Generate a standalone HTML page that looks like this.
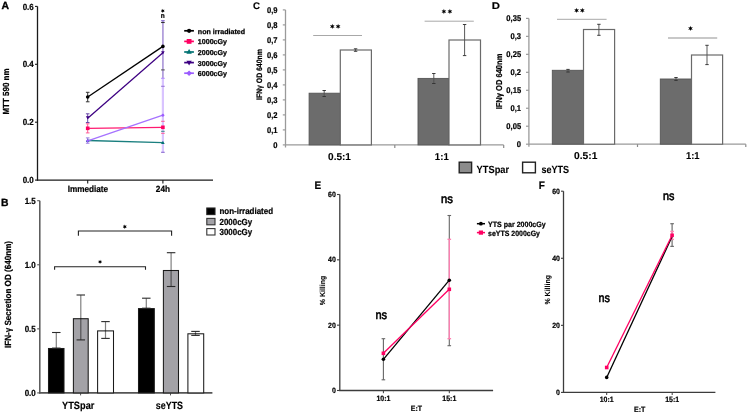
<!DOCTYPE html>
<html><head><meta charset="utf-8"><style>
html,body{margin:0;padding:0;background:#fff;}
svg{display:block;font-family:"Liberation Sans", sans-serif;will-change:transform;text-rendering:geometricPrecision;}
</style></head><body>
<svg width="749" height="415" viewBox="0 0 749 415">
<rect width="749" height="415" fill="#fff"/>
<text transform="translate(1.5 8.7)" font-size="10.4" font-weight="bold" fill="#000" text-anchor="start" stroke="#000" stroke-width="0.35">A</text>
<line x1="37.5" y1="6.4" x2="37.5" y2="180.7" stroke="#1a1a1a" stroke-width="1.3"/>
<line x1="36.9" y1="180.1" x2="213" y2="180.1" stroke="#1a1a1a" stroke-width="1.3"/>
<line x1="35.0" y1="6.4" x2="37.5" y2="6.4" stroke="#1a1a1a" stroke-width="1.1"/>
<text transform="translate(33.8 9.8) scale(1.0 1.1)" font-size="8" font-weight="bold" fill="#000" text-anchor="end" stroke="#000" stroke-width="0.2">0.6</text>
<line x1="35.0" y1="64.3" x2="37.5" y2="64.3" stroke="#1a1a1a" stroke-width="1.1"/>
<text transform="translate(33.8 67.25) scale(1.0 1.1)" font-size="8" font-weight="bold" fill="#000" text-anchor="end" stroke="#000" stroke-width="0.2">0.4</text>
<line x1="35.0" y1="122.2" x2="37.5" y2="122.2" stroke="#1a1a1a" stroke-width="1.1"/>
<text transform="translate(33.8 124.9) scale(1.0 1.1)" font-size="8" font-weight="bold" fill="#000" text-anchor="end" stroke="#000" stroke-width="0.2">0.2</text>
<line x1="35.0" y1="180.1" x2="37.5" y2="180.1" stroke="#1a1a1a" stroke-width="1.1"/>
<text transform="translate(33.8 182.95) scale(1.0 1.1)" font-size="8" font-weight="bold" fill="#000" text-anchor="end" stroke="#000" stroke-width="0.2">0.0</text>
<line x1="87.7" y1="180.1" x2="87.7" y2="183.6" stroke="#1a1a1a" stroke-width="1.1"/>
<line x1="162.9" y1="180.1" x2="162.9" y2="183.6" stroke="#1a1a1a" stroke-width="1.1"/>
<text transform="translate(87.9 191.5) scale(1.0 1.1)" font-size="8.2" font-weight="bold" fill="#000" text-anchor="middle" stroke="#000" stroke-width="0.2">Immediate</text>
<text transform="translate(162.9 191.5) scale(1.0 1.1)" font-size="8.2" font-weight="bold" fill="#000" text-anchor="middle" stroke="#000" stroke-width="0.2">24h</text>
<text transform="translate(8.8 91.5) rotate(-90) scale(1.0 1.1)" font-size="8" font-weight="bold" fill="#000" text-anchor="middle" stroke="#000" stroke-width="0.2">MTT 590 nm</text>
<line x1="162.9" y1="20.7" x2="162.9" y2="78.3" stroke="#b3a0dc" stroke-width="1.8"/>
<line x1="162.9" y1="78.3" x2="162.9" y2="152.3" stroke="#d9c4ff" stroke-width="2.2"/>
<line x1="161.1" y1="20.7" x2="164.7" y2="20.7" stroke="#8466cc" stroke-width="1.1"/>
<line x1="161.1" y1="22.5" x2="164.7" y2="22.5" stroke="#333" stroke-width="1.1"/>
<line x1="161.1" y1="69.9" x2="164.7" y2="69.9" stroke="#555" stroke-width="1.1"/>
<line x1="161.1" y1="78.3" x2="164.7" y2="78.3" stroke="#b48cff" stroke-width="1.1"/>
<line x1="161.1" y1="86.3" x2="164.7" y2="86.3" stroke="#9a78d8" stroke-width="1.1"/>
<line x1="161.1" y1="152.3" x2="164.7" y2="152.3" stroke="#8a6ad0" stroke-width="1.1"/>
<line x1="161.1" y1="121.3" x2="164.7" y2="121.3" stroke="#ff5a96" stroke-width="1.0"/>
<line x1="161.1" y1="133.3" x2="164.7" y2="133.3" stroke="#ff5a96" stroke-width="1.0"/>
<line x1="161.1" y1="131.3" x2="164.7" y2="131.3" stroke="#3a8a8a" stroke-width="1.0"/>
<line x1="87.7" y1="92.3" x2="87.7" y2="101.8" stroke="#333" stroke-width="1.0"/>
<line x1="85.9" y1="92.3" x2="89.5" y2="92.3" stroke="#333" stroke-width="1.0"/>
<line x1="85.9" y1="101.8" x2="89.5" y2="101.8" stroke="#333" stroke-width="1.0"/>
<line x1="87.7" y1="113.8" x2="87.7" y2="122.5" stroke="#6a4aa8" stroke-width="1.0"/>
<line x1="85.9" y1="113.8" x2="89.5" y2="113.8" stroke="#6a4aa8" stroke-width="1.0"/>
<line x1="85.9" y1="122.5" x2="89.5" y2="122.5" stroke="#6a4aa8" stroke-width="1.0"/>
<line x1="87.7" y1="123.8" x2="87.7" y2="132.9" stroke="#ff5a96" stroke-width="1.0"/>
<line x1="85.9" y1="123.8" x2="89.5" y2="123.8" stroke="#ff5a96" stroke-width="1.0"/>
<line x1="85.9" y1="132.9" x2="89.5" y2="132.9" stroke="#ff5a96" stroke-width="1.0"/>
<line x1="87.7" y1="137.9" x2="87.7" y2="143.2" stroke="#9a7ae0" stroke-width="1.0"/>
<line x1="85.9" y1="137.9" x2="89.5" y2="137.9" stroke="#9a7ae0" stroke-width="1.0"/>
<line x1="85.9" y1="143.2" x2="89.5" y2="143.2" stroke="#9a7ae0" stroke-width="1.0"/>
<line x1="87.7" y1="140.5" x2="162.9" y2="142.6" stroke="#1a7f7f" stroke-width="1.3"/>
<line x1="87.7" y1="128.3" x2="162.9" y2="127.3" stroke="#ff1a70" stroke-width="1.35"/>
<line x1="87.7" y1="140.8" x2="162.9" y2="115.2" stroke="#a672ff" stroke-width="1.3"/>
<line x1="87.7" y1="118.2" x2="162.9" y2="52.7" stroke="#3d0082" stroke-width="1.25"/>
<line x1="87.7" y1="97.0" x2="162.9" y2="46.4" stroke="#000" stroke-width="1.3"/>
<circle cx="87.7" cy="97.0" r="1.8" fill="#000"/>
<circle cx="162.9" cy="46.4" r="1.8" fill="#000"/>
<rect x="85.9" y="126.5" width="3.6" height="3.6" fill="#ff0062" stroke="none" stroke-width="1"/>
<rect x="161.1" y="125.5" width="3.6" height="3.6" fill="#ff0062" stroke="none" stroke-width="1"/>
<path d="M85.9 141.94 L87.7 138.7 L89.5 141.94 Z" fill="#007272" stroke="none" stroke-width="1"/>
<path d="M161.1 144.04 L162.9 140.79999999999998 L164.70000000000002 144.04 Z" fill="#007272" stroke="none" stroke-width="1"/>
<path d="M85.9 116.36 L87.7 119.6 L89.5 116.36 Z" fill="#3d0082" stroke="none" stroke-width="1"/>
<path d="M161.1 51.260000000000005 L162.9 54.5 L164.70000000000002 51.260000000000005 Z" fill="#3d0082" stroke="none" stroke-width="1"/>
<path d="M85.9 140.8 L87.7 139.0 L89.5 140.8 L87.7 142.60000000000002 Z" fill="#9b5cff" stroke="none" stroke-width="1"/>
<path d="M161.1 115.2 L162.9 113.4 L164.70000000000002 115.2 L162.9 117.0 Z" fill="#9b5cff" stroke="none" stroke-width="1"/>
<polygon points="162.80,8.70 162.28,9.89 160.98,9.75 161.75,10.80 160.98,11.85 162.28,11.71 162.80,12.90 163.33,11.71 164.62,11.85 163.85,10.80 164.62,9.75 163.33,9.89" fill="#000"/>
<text transform="translate(162.7 18.3) scale(1.0 1.1)" font-size="6.5" font-weight="bold" fill="#000" text-anchor="middle" stroke="#000" stroke-width="0.2">n</text>
<line x1="184.2" y1="30.8" x2="193.9" y2="30.8" stroke="#000" stroke-width="1.7"/>
<circle cx="189.1" cy="30.8" r="2.1" fill="#000"/>
<text transform="translate(197.8 33.8)" font-size="7.1" font-weight="bold" fill="#000" text-anchor="start" stroke="#000" stroke-width="0.25">non irradiated</text>
<line x1="184.2" y1="41.4" x2="193.9" y2="41.4" stroke="#ff0062" stroke-width="1.7"/>
<rect x="186.7" y="39.0" width="4.8" height="4.8" fill="#ff0062" stroke="none" stroke-width="1"/>
<text transform="translate(197.8 44.4)" font-size="7.1" font-weight="bold" fill="#000" text-anchor="start" stroke="#000" stroke-width="0.25">1000cGy</text>
<line x1="184.2" y1="52.0" x2="193.9" y2="52.0" stroke="#007272" stroke-width="1.7"/>
<path d="M186.4 53.86 L189.1 49.0 L191.79999999999998 53.86 Z" fill="#007272" stroke="none" stroke-width="1"/>
<text transform="translate(197.8 55.0)" font-size="7.1" font-weight="bold" fill="#000" text-anchor="start" stroke="#000" stroke-width="0.25">2000cGy</text>
<line x1="184.2" y1="62.599999999999994" x2="193.9" y2="62.599999999999994" stroke="#3d0082" stroke-width="1.7"/>
<path d="M186.4 60.739999999999995 L189.1 65.6 L191.79999999999998 60.739999999999995 Z" fill="#3d0082" stroke="none" stroke-width="1"/>
<text transform="translate(197.8 65.6)" font-size="7.1" font-weight="bold" fill="#000" text-anchor="start" stroke="#000" stroke-width="0.25">3000cGy</text>
<line x1="184.2" y1="73.2" x2="193.9" y2="73.2" stroke="#9b5cff" stroke-width="1.7"/>
<path d="M186.29999999999998 73.2 L189.1 70.4 L191.9 73.2 L189.1 76.0 Z" fill="#9b5cff" stroke="none" stroke-width="1"/>
<text transform="translate(197.8 76.2)" font-size="7.1" font-weight="bold" fill="#000" text-anchor="start" stroke="#000" stroke-width="0.25">6000cGy</text>
<text transform="translate(0.9 205.6)" font-size="10.4" font-weight="bold" fill="#000" text-anchor="start" stroke="#000" stroke-width="0.3">B</text>
<line x1="39.8" y1="200.7" x2="39.8" y2="393.6" stroke="#555" stroke-width="1.5"/>
<line x1="39.099999999999994" y1="392.9" x2="212.4" y2="392.9" stroke="#555" stroke-width="1.6"/>
<line x1="37.2" y1="200.7" x2="39.8" y2="200.7" stroke="#555" stroke-width="1.1"/>
<text transform="translate(35.8 203.5) scale(1.0 1.1)" font-size="8" font-weight="bold" fill="#000" text-anchor="end" stroke="#000" stroke-width="0.2">1.5</text>
<line x1="37.2" y1="264.77" x2="39.8" y2="264.77" stroke="#555" stroke-width="1.1"/>
<text transform="translate(35.8 267.57) scale(1.0 1.1)" font-size="8" font-weight="bold" fill="#000" text-anchor="end" stroke="#000" stroke-width="0.2">1.0</text>
<line x1="37.2" y1="328.84" x2="39.8" y2="328.84" stroke="#555" stroke-width="1.1"/>
<text transform="translate(35.8 331.64) scale(1.0 1.1)" font-size="8" font-weight="bold" fill="#000" text-anchor="end" stroke="#000" stroke-width="0.2">0.5</text>
<line x1="37.2" y1="392.90999999999997" x2="39.8" y2="392.90999999999997" stroke="#555" stroke-width="1.1"/>
<text transform="translate(35.8 395.71) scale(1.0 1.1)" font-size="8" font-weight="bold" fill="#000" text-anchor="end" stroke="#000" stroke-width="0.2">0.0</text>
<line x1="80.6" y1="392.9" x2="80.6" y2="395.4" stroke="#555" stroke-width="1.0"/>
<line x1="170.5" y1="392.9" x2="170.5" y2="395.4" stroke="#555" stroke-width="1.0"/>
<text transform="translate(78.2 408.7)" font-size="10.6" font-weight="bold" fill="#000" text-anchor="middle" stroke="#000" stroke-width="0.15" textLength="32.4" lengthAdjust="spacingAndGlyphs">YTSpar</text>
<text transform="translate(169.4 408.8)" font-size="10.6" font-weight="bold" fill="#000" text-anchor="middle" stroke="#000" stroke-width="0.15" textLength="27.2" lengthAdjust="spacingAndGlyphs">seYTS</text>
<text transform="translate(11.3 294.5) rotate(-90) scale(1.0 1.1)" font-size="8.1" font-weight="bold" fill="#000" text-anchor="middle" stroke="#000" stroke-width="0.2">IFN-&#947; Secretion OD (640nm)</text>
<rect x="48.5" y="348.5" width="15.5" height="44.39999999999998" fill="#000" stroke="#1a1a1a" stroke-width="1.05"/>
<rect x="73.4" y="318.7" width="14.799999999999997" height="74.19999999999999" fill="#a3a2a7" stroke="#1a1a1a" stroke-width="1.05"/>
<rect x="97.6" y="330.9" width="15.900000000000006" height="62.0" fill="#fff" stroke="#1a1a1a" stroke-width="1.05"/>
<rect x="138.5" y="308.6" width="15.800000000000011" height="84.29999999999995" fill="#000" stroke="#1a1a1a" stroke-width="1.05"/>
<rect x="163.4" y="270.5" width="15.099999999999994" height="122.39999999999998" fill="#a3a2a7" stroke="#1a1a1a" stroke-width="1.05"/>
<rect x="187.9" y="333.8" width="15.799999999999983" height="59.099999999999966" fill="#fff" stroke="#1a1a1a" stroke-width="1.05"/>
<line x1="56.3" y1="332.5" x2="56.3" y2="348.1" stroke="#000" stroke-width="1.2" stroke-opacity="0.5"/>
<line x1="52.05" y1="332.5" x2="60.55" y2="332.5" stroke="#2a2a2a" stroke-width="1.1"/>
<line x1="52.05" y1="348.1" x2="60.55" y2="348.1" stroke="#2a2a2a" stroke-width="1.1"/>
<line x1="80.8" y1="295.0" x2="80.8" y2="339.9" stroke="#000" stroke-width="1.2" stroke-opacity="0.5"/>
<line x1="76.55" y1="295.0" x2="85.05" y2="295.0" stroke="#2a2a2a" stroke-width="1.1"/>
<line x1="76.55" y1="339.9" x2="85.05" y2="339.9" stroke="#2a2a2a" stroke-width="1.1"/>
<line x1="105.5" y1="321.6" x2="105.5" y2="338.4" stroke="#000" stroke-width="1.2" stroke-opacity="0.5"/>
<line x1="101.25" y1="321.6" x2="109.75" y2="321.6" stroke="#2a2a2a" stroke-width="1.1"/>
<line x1="101.25" y1="338.4" x2="109.75" y2="338.4" stroke="#2a2a2a" stroke-width="1.1"/>
<line x1="146.3" y1="298.2" x2="146.3" y2="308.2" stroke="#000" stroke-width="1.2" stroke-opacity="0.5"/>
<line x1="142.05" y1="298.2" x2="150.55" y2="298.2" stroke="#2a2a2a" stroke-width="1.1"/>
<line x1="142.05" y1="308.2" x2="150.55" y2="308.2" stroke="#2a2a2a" stroke-width="1.1"/>
<line x1="171.1" y1="252.7" x2="171.1" y2="286.5" stroke="#000" stroke-width="1.2" stroke-opacity="0.5"/>
<line x1="166.85" y1="252.7" x2="175.35" y2="252.7" stroke="#2a2a2a" stroke-width="1.1"/>
<line x1="166.85" y1="286.5" x2="175.35" y2="286.5" stroke="#2a2a2a" stroke-width="1.1"/>
<line x1="195.5" y1="331.4" x2="195.5" y2="335.4" stroke="#000" stroke-width="1.2" stroke-opacity="0.5"/>
<line x1="191.25" y1="331.4" x2="199.75" y2="331.4" stroke="#2a2a2a" stroke-width="1.1"/>
<line x1="191.25" y1="335.4" x2="199.75" y2="335.4" stroke="#2a2a2a" stroke-width="1.1"/>
<path d="M78.4 235.8 V231 H171.6 V235.8" fill="none" stroke="#222" stroke-width="1.1"/>
<path d="M54.6 269.8 V266.8 H145.5 V269.8" fill="none" stroke="#222" stroke-width="1.1"/>
<polygon points="124.80,224.50 124.25,225.75 122.89,225.60 123.70,226.70 122.89,227.80 124.25,227.65 124.80,228.90 125.35,227.65 126.71,227.80 125.90,226.70 126.71,225.60 125.35,225.75" fill="#000"/>
<polygon points="100.05,259.80 99.52,260.99 98.23,260.85 99.00,261.90 98.23,262.95 99.52,262.81 100.05,264.00 100.58,262.81 101.87,262.95 101.10,261.90 101.87,260.85 100.58,260.99" fill="#000"/>
<rect x="206.8" y="208.0" width="8.2" height="6.6" fill="#000" stroke="#222" stroke-width="1.1"/>
<rect x="206.8" y="218.4" width="8.2" height="6.4" fill="#a3a2a7" stroke="#333" stroke-width="1.1"/>
<rect x="206.8" y="228.6" width="8.2" height="6.4" fill="#fff" stroke="#333" stroke-width="1.1"/>
<text transform="translate(219.5 213.8) scale(1.0 1.1)" font-size="8" font-weight="bold" fill="#000" text-anchor="start" stroke="#000" stroke-width="0.2" textLength="53.5" lengthAdjust="spacingAndGlyphs">non-irradiated</text>
<text transform="translate(219.5 224.7) scale(1.0 1.1)" font-size="8" font-weight="bold" fill="#000" text-anchor="start" stroke="#000" stroke-width="0.2" textLength="32.7" lengthAdjust="spacingAndGlyphs">2000cGy</text>
<text transform="translate(219.5 235.0) scale(1.0 1.1)" font-size="8" font-weight="bold" fill="#000" text-anchor="start" stroke="#000" stroke-width="0.2" textLength="32.7" lengthAdjust="spacingAndGlyphs">3000cGy</text>
<text transform="translate(253.0 9.0)" font-size="9.7" font-weight="bold" fill="#000" text-anchor="start" stroke="#000" stroke-width="0.15">C</text>
<line x1="285.5" y1="9.9" x2="285.5" y2="147.5" stroke="#9a9a9a" stroke-width="1.3"/>
<line x1="285.5" y1="144.9" x2="503.7" y2="144.9" stroke="#9a9a9a" stroke-width="1.3"/>
<line x1="394.8" y1="144.9" x2="394.8" y2="147.9" stroke="#8a8a8a" stroke-width="1.2"/>
<line x1="503.7" y1="144.9" x2="503.7" y2="147.9" stroke="#8a8a8a" stroke-width="1.2"/>
<line x1="282.8" y1="9.9" x2="285.5" y2="9.9" stroke="#9a9a9a" stroke-width="1.2"/>
<text transform="translate(277.5 12.8) scale(1.0 1.1)" font-size="7.6" font-weight="bold" fill="#000" text-anchor="end" stroke="#000" stroke-width="0.2">0,9</text>
<line x1="282.8" y1="24.9" x2="285.5" y2="24.9" stroke="#9a9a9a" stroke-width="1.2"/>
<text transform="translate(277.5 27.799999999999997) scale(1.0 1.1)" font-size="7.6" font-weight="bold" fill="#000" text-anchor="end" stroke="#000" stroke-width="0.2">0,8</text>
<line x1="282.8" y1="39.9" x2="285.5" y2="39.9" stroke="#9a9a9a" stroke-width="1.2"/>
<text transform="translate(277.5 42.8) scale(1.0 1.1)" font-size="7.6" font-weight="bold" fill="#000" text-anchor="end" stroke="#000" stroke-width="0.2">0,7</text>
<line x1="282.8" y1="54.9" x2="285.5" y2="54.9" stroke="#9a9a9a" stroke-width="1.2"/>
<text transform="translate(277.5 57.8) scale(1.0 1.1)" font-size="7.6" font-weight="bold" fill="#000" text-anchor="end" stroke="#000" stroke-width="0.2">0,6</text>
<line x1="282.8" y1="69.9" x2="285.5" y2="69.9" stroke="#9a9a9a" stroke-width="1.2"/>
<text transform="translate(277.5 72.80000000000001) scale(1.0 1.1)" font-size="7.6" font-weight="bold" fill="#000" text-anchor="end" stroke="#000" stroke-width="0.2">0,5</text>
<line x1="282.8" y1="84.9" x2="285.5" y2="84.9" stroke="#9a9a9a" stroke-width="1.2"/>
<text transform="translate(277.5 87.80000000000001) scale(1.0 1.1)" font-size="7.6" font-weight="bold" fill="#000" text-anchor="end" stroke="#000" stroke-width="0.2">0,4</text>
<line x1="282.8" y1="99.9" x2="285.5" y2="99.9" stroke="#9a9a9a" stroke-width="1.2"/>
<text transform="translate(277.5 102.80000000000001) scale(1.0 1.1)" font-size="7.6" font-weight="bold" fill="#000" text-anchor="end" stroke="#000" stroke-width="0.2">0,3</text>
<line x1="282.8" y1="114.9" x2="285.5" y2="114.9" stroke="#9a9a9a" stroke-width="1.2"/>
<text transform="translate(277.5 117.80000000000001) scale(1.0 1.1)" font-size="7.6" font-weight="bold" fill="#000" text-anchor="end" stroke="#000" stroke-width="0.2">0,2</text>
<line x1="282.8" y1="129.9" x2="285.5" y2="129.9" stroke="#9a9a9a" stroke-width="1.2"/>
<text transform="translate(277.5 132.8) scale(1.0 1.1)" font-size="7.6" font-weight="bold" fill="#000" text-anchor="end" stroke="#000" stroke-width="0.2">0,1</text>
<line x1="282.8" y1="144.9" x2="285.5" y2="144.9" stroke="#9a9a9a" stroke-width="1.2"/>
<text transform="translate(277.5 147.8) scale(1.0 1.1)" font-size="7.6" font-weight="bold" fill="#000" text-anchor="end" stroke="#000" stroke-width="0.2">0</text>
<rect x="309.1" y="93.2" width="31.19999999999999" height="51.7" fill="#6c6c6c" stroke="#555" stroke-width="0.9"/>
<rect x="340.3" y="50.0" width="31.099999999999966" height="94.9" fill="#fff" stroke="#6a6a6a" stroke-width="1.2"/>
<rect x="418.0" y="78.4" width="31.0" height="66.5" fill="#6c6c6c" stroke="#555" stroke-width="0.9"/>
<rect x="449.0" y="40.0" width="31.5" height="104.9" fill="#fff" stroke="#6a6a6a" stroke-width="1.2"/>
<line x1="324.2" y1="90.5" x2="324.2" y2="96.5" stroke="#505050" stroke-width="0.95"/>
<line x1="322.5" y1="90.5" x2="325.9" y2="90.5" stroke="#333" stroke-width="0.95"/>
<line x1="322.5" y1="96.5" x2="325.9" y2="96.5" stroke="#333" stroke-width="0.95"/>
<line x1="355.6" y1="48.8" x2="355.6" y2="51.3" stroke="#505050" stroke-width="0.95"/>
<line x1="353.90000000000003" y1="48.8" x2="357.3" y2="48.8" stroke="#333" stroke-width="0.95"/>
<line x1="353.90000000000003" y1="51.3" x2="357.3" y2="51.3" stroke="#333" stroke-width="0.95"/>
<line x1="433.8" y1="73.5" x2="433.8" y2="83.5" stroke="#505050" stroke-width="0.95"/>
<line x1="432.1" y1="73.5" x2="435.5" y2="73.5" stroke="#333" stroke-width="0.95"/>
<line x1="432.1" y1="83.5" x2="435.5" y2="83.5" stroke="#333" stroke-width="0.95"/>
<line x1="464.6" y1="24.5" x2="464.6" y2="55.6" stroke="#505050" stroke-width="0.95"/>
<line x1="462.90000000000003" y1="24.5" x2="466.3" y2="24.5" stroke="#333" stroke-width="0.95"/>
<line x1="462.90000000000003" y1="55.6" x2="466.3" y2="55.6" stroke="#333" stroke-width="0.95"/>
<line x1="313.2" y1="35.5" x2="362" y2="35.5" stroke="#a8a8a8" stroke-width="1.0"/>
<line x1="424.6" y1="21.2" x2="473.8" y2="21.2" stroke="#a8a8a8" stroke-width="1.0"/>
<polygon points="332.30,23.70 331.73,25.40 329.96,25.05 331.15,26.40 329.96,27.75 331.73,27.40 332.30,29.10 332.88,27.40 334.64,27.75 333.45,26.40 334.64,25.05 332.88,25.40" fill="#000"/>
<polygon points="338.10,23.70 337.53,25.40 335.76,25.05 336.95,26.40 335.76,27.75 337.53,27.40 338.10,29.10 338.68,27.40 340.44,27.75 339.25,26.40 340.44,25.05 338.68,25.40" fill="#000"/>
<polygon points="443.90,8.80 443.32,10.50 441.56,10.15 442.75,11.50 441.56,12.85 443.32,12.50 443.90,14.20 444.47,12.50 446.24,12.85 445.05,11.50 446.24,10.15 444.47,10.50" fill="#000"/>
<polygon points="449.90,8.80 449.32,10.50 447.56,10.15 448.75,11.50 447.56,12.85 449.32,12.50 449.90,14.20 450.47,12.50 452.24,12.85 451.05,11.50 452.24,10.15 450.47,10.50" fill="#000"/>
<text transform="translate(339.5 159.6)" font-size="10" font-weight="bold" fill="#000" text-anchor="middle" stroke="#000" stroke-width="0.1" textLength="22.9" lengthAdjust="spacingAndGlyphs">0.5:1</text>
<text transform="translate(441.8 159.6)" font-size="10" font-weight="bold" fill="#000" text-anchor="middle" stroke="#000" stroke-width="0.1" textLength="13.9" lengthAdjust="spacingAndGlyphs">1:1</text>
<text transform="translate(262.1 74.6) rotate(-90) scale(1.0 1.1)" font-size="7.2" font-weight="bold" fill="#000" text-anchor="middle" stroke="#000" stroke-width="0.2" textLength="50.7" lengthAdjust="spacingAndGlyphs">IFN&#947; OD 640nm</text>
<rect x="459.2" y="162.2" width="12.4" height="10.6" fill="#8c8c8c" stroke="#222" stroke-width="1.4"/>
<rect x="522.6" y="162.2" width="12.8" height="10.6" fill="#fff" stroke="#222" stroke-width="1.4"/>
<text transform="translate(476.6 172.6)" font-size="10.3" font-weight="bold" fill="#000" text-anchor="start" stroke="#000" stroke-width="0.1" textLength="32.5" lengthAdjust="spacingAndGlyphs">YTSpar</text>
<text transform="translate(541.5 172.6)" font-size="10.3" font-weight="bold" fill="#000" text-anchor="start" stroke="#000" stroke-width="0.1" textLength="27.6" lengthAdjust="spacingAndGlyphs">seYTS</text>
<text transform="translate(491.7 8.7) scale(1.17 1.0)" font-size="9.7" font-weight="bold" fill="#000" text-anchor="start" stroke="#000" stroke-width="0.15">D</text>
<line x1="528.9" y1="18.4" x2="528.9" y2="146.7" stroke="#9a9a9a" stroke-width="1.3"/>
<line x1="528.9" y1="144.2" x2="745.8" y2="144.2" stroke="#9a9a9a" stroke-width="1.3"/>
<line x1="637.5" y1="144.2" x2="637.5" y2="147.0" stroke="#8a8a8a" stroke-width="1.2"/>
<line x1="745.8" y1="144.2" x2="745.8" y2="147.0" stroke="#8a8a8a" stroke-width="1.2"/>
<line x1="526.0" y1="18.4" x2="528.9" y2="18.4" stroke="#9a9a9a" stroke-width="1.2"/>
<text transform="translate(521.1 21.299999999999997) scale(1.0 1.1)" font-size="7.6" font-weight="bold" fill="#000" text-anchor="end" stroke="#000" stroke-width="0.2">0,35</text>
<line x1="526.0" y1="36.37" x2="528.9" y2="36.37" stroke="#9a9a9a" stroke-width="1.2"/>
<text transform="translate(521.1 39.269999999999996) scale(1.0 1.1)" font-size="7.6" font-weight="bold" fill="#000" text-anchor="end" stroke="#000" stroke-width="0.2">0,3</text>
<line x1="526.0" y1="54.339999999999996" x2="528.9" y2="54.339999999999996" stroke="#9a9a9a" stroke-width="1.2"/>
<text transform="translate(521.1 57.239999999999995) scale(1.0 1.1)" font-size="7.6" font-weight="bold" fill="#000" text-anchor="end" stroke="#000" stroke-width="0.2">0,25</text>
<line x1="526.0" y1="72.31" x2="528.9" y2="72.31" stroke="#9a9a9a" stroke-width="1.2"/>
<text transform="translate(521.1 75.21000000000001) scale(1.0 1.1)" font-size="7.6" font-weight="bold" fill="#000" text-anchor="end" stroke="#000" stroke-width="0.2">0,2</text>
<line x1="526.0" y1="90.28" x2="528.9" y2="90.28" stroke="#9a9a9a" stroke-width="1.2"/>
<text transform="translate(521.1 93.18) scale(1.0 1.1)" font-size="7.6" font-weight="bold" fill="#000" text-anchor="end" stroke="#000" stroke-width="0.2">0,15</text>
<line x1="526.0" y1="108.25" x2="528.9" y2="108.25" stroke="#9a9a9a" stroke-width="1.2"/>
<text transform="translate(521.1 111.15) scale(1.0 1.1)" font-size="7.6" font-weight="bold" fill="#000" text-anchor="end" stroke="#000" stroke-width="0.2">0,1</text>
<line x1="526.0" y1="126.22" x2="528.9" y2="126.22" stroke="#9a9a9a" stroke-width="1.2"/>
<text transform="translate(521.1 129.12) scale(1.0 1.1)" font-size="7.6" font-weight="bold" fill="#000" text-anchor="end" stroke="#000" stroke-width="0.2">0,05</text>
<line x1="526.0" y1="144.19" x2="528.9" y2="144.19" stroke="#9a9a9a" stroke-width="1.2"/>
<text transform="translate(521.1 147.09) scale(1.0 1.1)" font-size="7.6" font-weight="bold" fill="#000" text-anchor="end" stroke="#000" stroke-width="0.2">0</text>
<rect x="552.3" y="70.3" width="31.200000000000045" height="73.89999999999999" fill="#6c6c6c" stroke="#555" stroke-width="0.9"/>
<rect x="583.5" y="29.5" width="31.100000000000023" height="114.69999999999999" fill="#fff" stroke="#6a6a6a" stroke-width="1.2"/>
<rect x="660.3" y="79.0" width="31.200000000000045" height="65.19999999999999" fill="#6c6c6c" stroke="#555" stroke-width="0.9"/>
<rect x="691.5" y="55.0" width="31.100000000000023" height="89.19999999999999" fill="#fff" stroke="#6a6a6a" stroke-width="1.2"/>
<line x1="568.0" y1="69.4" x2="568.0" y2="72.0" stroke="#505050" stroke-width="0.95"/>
<line x1="566.3" y1="69.4" x2="569.7" y2="69.4" stroke="#333" stroke-width="0.95"/>
<line x1="566.3" y1="72.0" x2="569.7" y2="72.0" stroke="#333" stroke-width="0.95"/>
<line x1="598.9" y1="24.3" x2="598.9" y2="35.3" stroke="#505050" stroke-width="0.95"/>
<line x1="597.1999999999999" y1="24.3" x2="600.6" y2="24.3" stroke="#333" stroke-width="0.95"/>
<line x1="597.1999999999999" y1="35.3" x2="600.6" y2="35.3" stroke="#333" stroke-width="0.95"/>
<line x1="676.0" y1="77.5" x2="676.0" y2="80.4" stroke="#505050" stroke-width="0.95"/>
<line x1="674.3" y1="77.5" x2="677.7" y2="77.5" stroke="#333" stroke-width="0.95"/>
<line x1="674.3" y1="80.4" x2="677.7" y2="80.4" stroke="#333" stroke-width="0.95"/>
<line x1="707.0" y1="45.3" x2="707.0" y2="64.6" stroke="#505050" stroke-width="0.95"/>
<line x1="705.3" y1="45.3" x2="708.7" y2="45.3" stroke="#333" stroke-width="0.95"/>
<line x1="705.3" y1="64.6" x2="708.7" y2="64.6" stroke="#333" stroke-width="0.95"/>
<line x1="557.0" y1="19.3" x2="606.6" y2="19.3" stroke="#a8a8a8" stroke-width="1.0"/>
<line x1="668.0" y1="38.0" x2="717.2" y2="38.0" stroke="#c8c8c8" stroke-width="1.8"/>
<polygon points="576.60,7.70 576.02,9.40 574.26,9.05 575.45,10.40 574.26,11.75 576.02,11.40 576.60,13.10 577.18,11.40 578.94,11.75 577.75,10.40 578.94,9.05 577.18,9.40" fill="#000"/>
<polygon points="582.30,7.70 581.72,9.40 579.96,9.05 581.15,10.40 579.96,11.75 581.72,11.40 582.30,13.10 582.88,11.40 584.64,11.75 583.45,10.40 584.64,9.05 582.88,9.40" fill="#000"/>
<polygon points="690.50,25.70 689.92,27.40 688.16,27.05 689.35,28.40 688.16,29.75 689.92,29.40 690.50,31.10 691.08,29.40 692.84,29.75 691.65,28.40 692.84,27.05 691.08,27.40" fill="#000"/>
<text transform="translate(585.7 159.4)" font-size="10" font-weight="bold" fill="#000" text-anchor="middle" stroke="#000" stroke-width="0.1" textLength="23.4" lengthAdjust="spacingAndGlyphs">0.5:1</text>
<text transform="translate(692.8 159.4)" font-size="10" font-weight="bold" fill="#000" text-anchor="middle" stroke="#000" stroke-width="0.1" textLength="13.6" lengthAdjust="spacingAndGlyphs">1:1</text>
<text transform="translate(501.9 81.5) rotate(-90) scale(1.0 1.1)" font-size="7.8" font-weight="bold" fill="#000" text-anchor="middle" stroke="#000" stroke-width="0.2" textLength="55.7" lengthAdjust="spacingAndGlyphs">IFN&#947; OD 640nm</text>
<text transform="translate(314.4 189.0) scale(1.0 1.1)" font-size="10" font-weight="bold" fill="#000" text-anchor="start" stroke="#000" stroke-width="0.2">E</text>
<line x1="339.8" y1="194.5" x2="339.8" y2="391.1" stroke="#3c3c3c" stroke-width="1.3"/>
<line x1="339.2" y1="390.5" x2="493.1" y2="390.5" stroke="#3c3c3c" stroke-width="1.3"/>
<line x1="337.0" y1="194.5" x2="339.8" y2="194.5" stroke="#3c3c3c" stroke-width="1.1"/>
<text transform="translate(335.9 197.1) scale(1.0 1.1)" font-size="7" font-weight="bold" fill="#000" text-anchor="end" stroke="#000" stroke-width="0.2">60</text>
<line x1="337.0" y1="259.83" x2="339.8" y2="259.83" stroke="#3c3c3c" stroke-width="1.1"/>
<text transform="translate(335.9 262.43) scale(1.0 1.1)" font-size="7" font-weight="bold" fill="#000" text-anchor="end" stroke="#000" stroke-width="0.2">40</text>
<line x1="337.0" y1="325.15999999999997" x2="339.8" y2="325.15999999999997" stroke="#3c3c3c" stroke-width="1.1"/>
<text transform="translate(335.9 327.76) scale(1.0 1.1)" font-size="7" font-weight="bold" fill="#000" text-anchor="end" stroke="#000" stroke-width="0.2">20</text>
<line x1="337.0" y1="390.49" x2="339.8" y2="390.49" stroke="#3c3c3c" stroke-width="1.1"/>
<text transform="translate(335.9 393.09000000000003) scale(1.0 1.1)" font-size="7" font-weight="bold" fill="#000" text-anchor="end" stroke="#000" stroke-width="0.2">0</text>
<line x1="383.4" y1="390.5" x2="383.4" y2="393.2" stroke="#3c3c3c" stroke-width="1.0"/>
<line x1="449.3" y1="390.5" x2="449.3" y2="393.2" stroke="#3c3c3c" stroke-width="1.0"/>
<text transform="translate(383.4 401.4) scale(1.0 1.1)" font-size="7" font-weight="bold" fill="#000" text-anchor="middle" stroke="#000" stroke-width="0.2">10:1</text>
<text transform="translate(449.3 401.4) scale(1.0 1.1)" font-size="7" font-weight="bold" fill="#000" text-anchor="middle" stroke="#000" stroke-width="0.2">15:1</text>
<text transform="translate(416.4 411.2) scale(1.0 1.1)" font-size="7" font-weight="bold" fill="#000" text-anchor="middle" stroke="#000" stroke-width="0.2">E:T</text>
<text transform="translate(324.8 290.5) rotate(-90) scale(1.0 1.05)" font-size="7" font-weight="bold" fill="#000" text-anchor="middle" stroke="#000" stroke-width="0.1">% Killing</text>
<line x1="449.3" y1="215.5" x2="449.3" y2="345.7" stroke="#666" stroke-width="1.1"/>
<line x1="447.5" y1="215.5" x2="451.1" y2="215.5" stroke="#666" stroke-width="1.1"/>
<line x1="447.5" y1="345.7" x2="451.1" y2="345.7" stroke="#666" stroke-width="1.1"/>
<line x1="449.3" y1="239.3" x2="449.3" y2="338.7" stroke="#ff80b2" stroke-width="1.35"/>
<line x1="447.5" y1="239.3" x2="451.1" y2="239.3" stroke="#ff80b2" stroke-width="1.35"/>
<line x1="447.5" y1="338.7" x2="451.1" y2="338.7" stroke="#ff80b2" stroke-width="1.35"/>
<line x1="383.4" y1="338.7" x2="383.4" y2="379.8" stroke="#666" stroke-width="1.1"/>
<line x1="381.59999999999997" y1="338.7" x2="385.2" y2="338.7" stroke="#666" stroke-width="1.1"/>
<line x1="381.59999999999997" y1="379.8" x2="385.2" y2="379.8" stroke="#666" stroke-width="1.1"/>
<line x1="383.4" y1="359.3" x2="449.3" y2="280.2" stroke="#000" stroke-width="1.3"/>
<line x1="383.4" y1="353.3" x2="449.3" y2="289.3" stroke="#ff0062" stroke-width="1.3"/>
<circle cx="383.4" cy="359.3" r="1.8" fill="#000"/>
<circle cx="449.3" cy="280.2" r="1.8" fill="#000"/>
<rect x="381.6" y="351.5" width="3.6" height="3.6" fill="#ff0062" stroke="none" stroke-width="1"/>
<rect x="447.5" y="287.5" width="3.6" height="3.6" fill="#ff0062" stroke="none" stroke-width="1"/>
<text transform="translate(381.3 319.0)" font-size="12.3" font-weight="normal" fill="#000" text-anchor="middle" stroke="#000" stroke-width="0.6" textLength="11.6" lengthAdjust="spacingAndGlyphs">ns</text>
<text transform="translate(447.05 202.9)" font-size="12.3" font-weight="normal" fill="#000" text-anchor="middle" stroke="#000" stroke-width="0.6" textLength="11.9" lengthAdjust="spacingAndGlyphs">ns</text>
<line x1="476.9" y1="223.7" x2="485" y2="223.7" stroke="#000" stroke-width="1.5"/>
<circle cx="480.9" cy="223.7" r="1.9" fill="#000"/>
<line x1="476.9" y1="232.6" x2="485" y2="232.6" stroke="#ff0062" stroke-width="1.5"/>
<rect x="478.8" y="230.5" width="4.2" height="4.2" fill="#ff0062" stroke="none" stroke-width="1"/>
<text transform="translate(488.0 226.8) scale(1.0 1.1)" font-size="7" font-weight="bold" fill="#000" text-anchor="start" stroke="#000" stroke-width="0.2" textLength="57.7" lengthAdjust="spacingAndGlyphs">YTS par 2000cGy</text>
<text transform="translate(488.0 235.7) scale(1.0 1.1)" font-size="7" font-weight="bold" fill="#000" text-anchor="start" stroke="#000" stroke-width="0.2" textLength="52.0" lengthAdjust="spacingAndGlyphs">seYTS 2000cGy</text>
<text transform="translate(538.7 189.0) scale(1.0 1.1)" font-size="10" font-weight="bold" fill="#000" text-anchor="start" stroke="#000" stroke-width="0.2">F</text>
<line x1="563.5" y1="191.2" x2="563.5" y2="393.0" stroke="#3c3c3c" stroke-width="1.3"/>
<line x1="562.9" y1="392.4" x2="715.4" y2="392.4" stroke="#3c3c3c" stroke-width="1.3"/>
<line x1="561.0" y1="191.2" x2="563.5" y2="191.2" stroke="#3c3c3c" stroke-width="1.1"/>
<text transform="translate(560.0 193.79999999999998) scale(1.0 1.1)" font-size="7" font-weight="bold" fill="#000" text-anchor="end" stroke="#000" stroke-width="0.2">60</text>
<line x1="561.0" y1="258.27" x2="563.5" y2="258.27" stroke="#3c3c3c" stroke-width="1.1"/>
<text transform="translate(560.0 260.87) scale(1.0 1.1)" font-size="7" font-weight="bold" fill="#000" text-anchor="end" stroke="#000" stroke-width="0.2">40</text>
<line x1="561.0" y1="325.34" x2="563.5" y2="325.34" stroke="#3c3c3c" stroke-width="1.1"/>
<text transform="translate(560.0 327.94) scale(1.0 1.1)" font-size="7" font-weight="bold" fill="#000" text-anchor="end" stroke="#000" stroke-width="0.2">20</text>
<line x1="561.0" y1="392.40999999999997" x2="563.5" y2="392.40999999999997" stroke="#3c3c3c" stroke-width="1.1"/>
<text transform="translate(560.0 395.01) scale(1.0 1.1)" font-size="7" font-weight="bold" fill="#000" text-anchor="end" stroke="#000" stroke-width="0.2">0</text>
<line x1="606.7" y1="392.4" x2="606.7" y2="395.0" stroke="#3c3c3c" stroke-width="1.0"/>
<line x1="672.2" y1="392.4" x2="672.2" y2="395.0" stroke="#3c3c3c" stroke-width="1.0"/>
<text transform="translate(606.7 402.4) scale(1.0 1.1)" font-size="7" font-weight="bold" fill="#000" text-anchor="middle" stroke="#000" stroke-width="0.2">10:1</text>
<text transform="translate(672.2 402.4) scale(1.0 1.1)" font-size="7" font-weight="bold" fill="#000" text-anchor="middle" stroke="#000" stroke-width="0.2">15:1</text>
<text transform="translate(639.6 412.0) scale(1.0 1.1)" font-size="7" font-weight="bold" fill="#000" text-anchor="middle" stroke="#000" stroke-width="0.2">E:T</text>
<text transform="translate(549.5 289.8) rotate(-90) scale(1.0 1.05)" font-size="7" font-weight="bold" fill="#000" text-anchor="middle" stroke="#000" stroke-width="0.1">% Killing</text>
<line x1="672.1" y1="223.7" x2="672.1" y2="246.4" stroke="#6e6e6e" stroke-width="1.2"/>
<line x1="670.3000000000001" y1="223.7" x2="673.9" y2="223.7" stroke="#6e6e6e" stroke-width="1.2"/>
<line x1="670.3000000000001" y1="246.4" x2="673.9" y2="246.4" stroke="#6e6e6e" stroke-width="1.2"/>
<line x1="672.1" y1="231.4" x2="672.1" y2="239.4" stroke="#ff80b2" stroke-width="1.4"/>
<line x1="670.3000000000001" y1="231.4" x2="673.9" y2="231.4" stroke="#ff80b2" stroke-width="1.4"/>
<line x1="670.3000000000001" y1="239.4" x2="673.9" y2="239.4" stroke="#ff80b2" stroke-width="1.4"/>
<line x1="606.7" y1="377.4" x2="672.1" y2="236.5" stroke="#000" stroke-width="1.3"/>
<line x1="606.7" y1="367.5" x2="672.1" y2="235.3" stroke="#ff0062" stroke-width="1.3"/>
<circle cx="606.7" cy="377.4" r="1.8" fill="#000"/>
<rect x="604.9" y="365.7" width="3.6" height="3.6" fill="#ff0062" stroke="none" stroke-width="1"/>
<rect x="670.3" y="233.5" width="3.6" height="3.6" fill="#ff0062" stroke="none" stroke-width="1"/>
<text transform="translate(604.2 301.9)" font-size="12.3" font-weight="normal" fill="#000" text-anchor="middle" stroke="#000" stroke-width="0.6" textLength="11.4" lengthAdjust="spacingAndGlyphs">ns</text>
<text transform="translate(668.6 199.5)" font-size="12.3" font-weight="normal" fill="#000" text-anchor="middle" stroke="#000" stroke-width="0.6" textLength="11.4" lengthAdjust="spacingAndGlyphs">ns</text>
</svg>
</body></html>
